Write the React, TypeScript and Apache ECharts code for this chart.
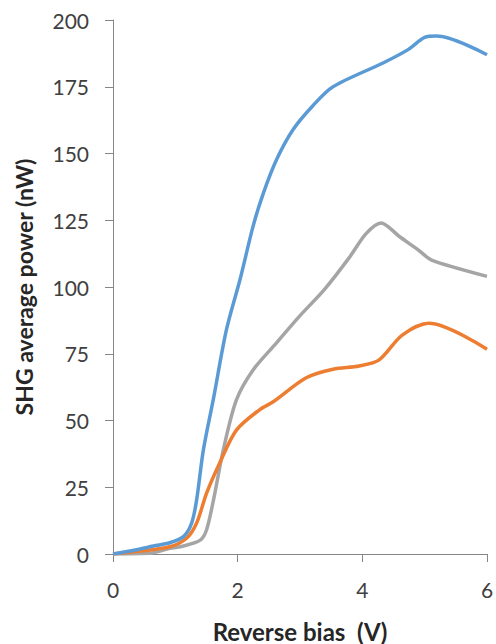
import React, { useEffect, useRef } from "react";
import * as echarts from "echarts";

const blueSeries: [number, number][] = [
  [0, 0], [0.3, 1.2], [0.65, 3.0], [0.91, 4.2], [1.13, 6.5], [1.26, 11.5], [1.34, 20],
  [1.45, 39], [1.61, 58], [1.82, 84], [2.04, 103], [2.25, 123], [2.41, 135], [2.63, 148],
  [2.89, 159], [3.21, 168], [3.53, 175], [4.34, 184], [4.74, 189], [5.0, 193.5], [5.19, 194], [6, 187],
];
const orangeSeries: [number, number][] = [
  [0, 0], [0.4, 1], [0.91, 2.7], [1.18, 5.9], [1.34, 11.5], [1.5, 22.7], [1.71, 34],
  [1.98, 46.4], [2.35, 54], [2.57, 57], [3.1, 66], [3.53, 69.2], [3.95, 70.4],
  [4.27, 72.7], [4.64, 82], [5.07, 86.4], [6, 76.7],
];
const graySeries: [number, number][] = [
  [0, 0], [0.59, 0.3], [0.91, 2.1], [1.13, 3], [1.4, 5.2], [1.5, 9], [1.61, 20], [1.77, 39],
  [1.98, 57.7], [2.25, 69], [2.62, 79], [2.99, 89], [3.39, 99], [3.79, 111], [4.06, 120],
  [4.3, 124], [4.59, 119], [4.89, 114], [5.12, 110], [6, 104],
];
const xTitle = "Reverse bias  (V)";
const yTitle = "SHG average power (nW)";

export default function App() {
  const ref = useRef<HTMLDivElement>(null);
  useEffect(() => {
    const chart = echarts.init(ref.current!, null, { renderer: "svg" });
    const font = "Lato, 'Liberation Sans', sans-serif";
    const axisLine = { show: true, lineStyle: { color: "#868686", width: 1 } };
    chart.setOption({
      animation: false,
      backgroundColor: "#ffffff",
      grid: { left: 113, right: 9, top: 20, bottom: 90, containLabel: false, outerBoundsMode: "none" },
      xAxis: {
        type: "value", min: 0, max: 6, interval: 2,
        axisLine, splitLine: { show: false },
        axisTick: { show: true, length: 8, lineStyle: { color: "#868686" } },
        axisLabel: { margin: 25, fontSize: 21, color: "#404040", fontFamily: font },
        name: xTitle, nameLocation: "middle", nameGap: 65,
        nameTextStyle: { fontSize: 24, fontWeight: "bold", color: "#262626", fontFamily: font },
      },
      yAxis: {
        type: "value", min: 0, max: 200, interval: 25,
        axisLine, splitLine: { show: false },
        axisTick: { show: true, length: 8, lineStyle: { color: "#868686" } },
        axisLabel: { margin: 24, fontSize: 21, color: "#404040", fontFamily: font },
        name: yTitle, nameLocation: "middle", nameGap: 78,
        nameTextStyle: { fontSize: 23, fontWeight: "bold", color: "#262626", fontFamily: font },
      },
      series: [
        { type: "line", data: graySeries, smooth: 0.3, showSymbol: false, lineStyle: { color: "#A5A5A5", width: 3.5 } },
        { type: "line", data: orangeSeries, smooth: 0.3, showSymbol: false, lineStyle: { color: "#ED7D31", width: 3.5 } },
        { type: "line", data: blueSeries, smooth: 0.3, showSymbol: false, lineStyle: { color: "#5B9BD5", width: 3.5 } },
      ],
    });
    return () => chart.dispose();
  }, []);
  return <div ref={ref} style={{ position: "fixed", left: 0, top: 0, width: 496, height: 644 }} />;
}
